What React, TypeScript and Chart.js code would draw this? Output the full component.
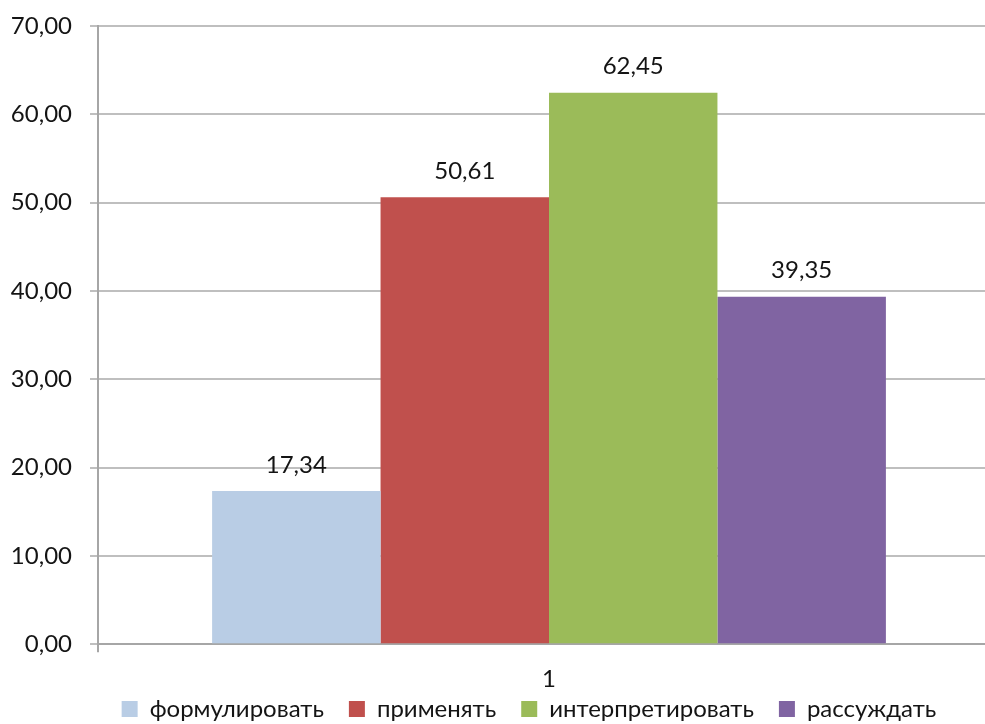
import React, { useEffect, useRef } from "react";
import { Chart, registerables } from "chart.js";

Chart.register(...registerables);

const categories = ["1"];
const seriesNames = ["формулировать", "применять", "интерпретировать", "рассуждать"];
const seriesValues = [[17.34], [50.61], [62.45], [39.35]];
const seriesColors = ["#B9CDE5", "#C0504D", "#9BBB59", "#8064A2"];
const yTicks = [0, 10, 20, 30, 40, 50, 60, 70];

const FONT = "Lato, 'Open Sans', sans-serif";
const TEXT = "#141414";
const FS = 24;

const fmt = (v: number) => v.toFixed(2).replace(".", ",");

const valueLabels = {
  id: "valueLabels",
  afterDatasetsDraw(chart: any) {
    const ctx = chart.ctx;
    ctx.save();
    ctx.font = `${FS}px ${FONT}`;
    ctx.fillStyle = TEXT;
    ctx.textAlign = "center";
    ctx.textBaseline = "middle";
    chart.data.datasets.forEach((ds: any, i: number) => {
      const meta = chart.getDatasetMeta(i);
      meta.data.forEach((bar: any, j: number) => {
        ctx.fillText(fmt(ds.data[j]), bar.x, bar.y - 26);
      });
    });
    ctx.restore();
  },
};

const legendShift = {
  id: "legendShift",
  afterLayout(chart: any) {
    const lg = chart.legend;
    if (lg) {
      lg.left += 29;
      lg.right += 29;
      lg.top -= 35;
      lg.bottom -= 35;
    }
  },
};

export default function App() {
  const ref = useRef<HTMLCanvasElement | null>(null);
  useEffect(() => {
    if (!ref.current) return;
    const chart = new Chart(ref.current, {
      type: "bar",
      data: {
        labels: categories,
        datasets: seriesNames.map((name, i) => ({
          label: name,
          data: seriesValues[i],
          backgroundColor: seriesColors[i],
          borderWidth: 0,
          barPercentage: 1,
          categoryPercentage: 0.747,
        })),
      },
      options: {
        animation: false,
        responsive: false,
        maintainAspectRatio: false,
        layout: { padding: { left: 0, right: 58, top: 26, bottom: 0 } },
        plugins: {
          tooltip: { enabled: false },
          legend: {
            position: "bottom",
            labels: {
              font: { family: FONT, size: FS },
              color: TEXT,
              boxWidth: 16,
              boxHeight: 16,
              padding: 25,
            },
          },
        },
        scales: {
          x: {
            afterFit(scale: any) {
              scale.paddingLeft = 0;
              scale.paddingRight = 0;
            },
            grid: { display: true, drawOnChartArea: false, offset: true, tickLength: 8, color: "#A6A6A6", lineWidth: 2 },
            border: { display: true, color: "#A6A6A6", width: 2 },
            ticks: { font: { family: FONT, size: FS }, color: TEXT, padding: 13 },
          },
          y: {
            min: 0,
            max: 70,
            afterFit(scale: any) {
              scale.width = 98;
              scale.paddingTop = 0;
              scale.paddingBottom = 0;
            },
            afterBuildTicks(scale: any) {
              scale.ticks = yTicks.map((v) => ({ value: v }));
            },
            grid: { color: "#BFBFBF", lineWidth: 2, tickLength: 8 },
            border: { display: true, color: "#A6A6A6", width: 2 },
            ticks: {
              font: { family: FONT, size: FS },
              color: TEXT,
              padding: 18,
              callback: (v: any) => fmt(Number(v)),
            },
          },
        },
      },
      plugins: [valueLabels, legendShift],
    });
    return () => chart.destroy();
  }, []);
  return (
    <div style={{ position: "absolute", left: 0, top: 0, width: 985, height: 724, overflow: "hidden", background: "#fff" }}>
      <canvas ref={ref} width={1058} height={766} style={{ width: 1058, height: 766, display: "block" }} />
    </div>
  );
}
